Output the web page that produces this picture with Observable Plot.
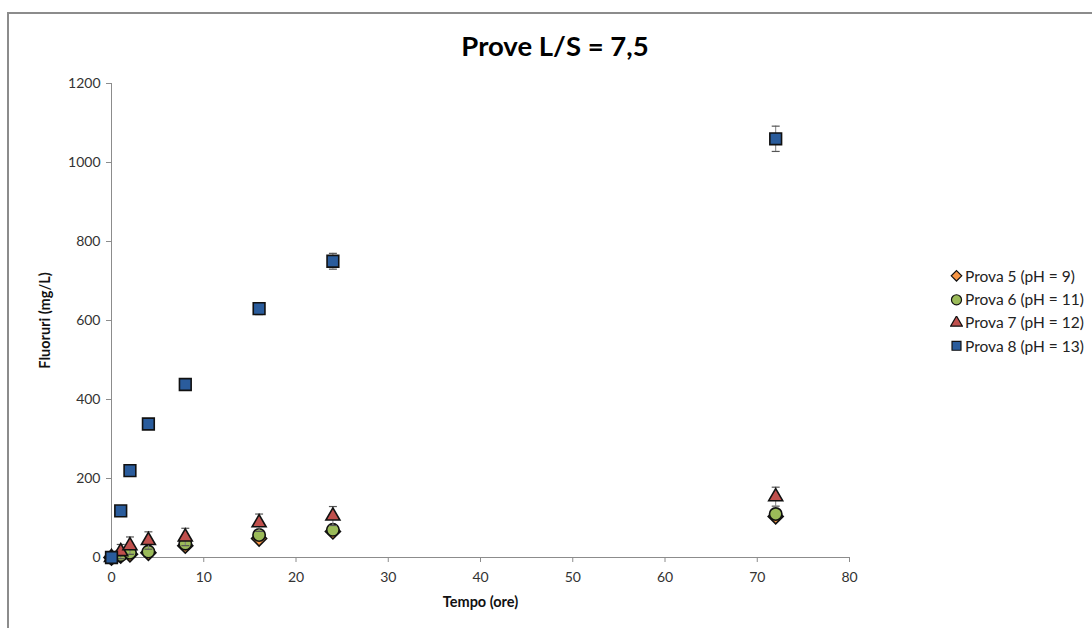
<!DOCTYPE html>
<html><head><meta charset="utf-8">
<script src="https://cdn.jsdelivr.net/npm/d3@7"></script>
<script src="https://cdn.jsdelivr.net/npm/@observablehq/plot@0.6"></script>
<style>
body{margin:0;background:#fff;font-family:Lato,"Open Sans",sans-serif;}
#wrap{position:relative;width:1092px;height:628px;overflow:hidden;background:#fff;}
#frame{position:absolute;left:7px;top:12px;width:1200px;height:700px;border-left:2px solid #8c8c8c;border-top:2px solid #8c8c8c;}
#chart{position:absolute;left:0;top:0;}
#title{position:absolute;left:0;width:1110px;top:29px;text-align:center;font-weight:bold;font-size:27.5px;color:#000;}
#legend{position:absolute;left:950px;top:264px;font-size:15.5px;color:#222;}
#legend .row{height:23.4px;display:flex;align-items:center;}
#legend svg{margin-right:2px;}
</style>
</head><body>
<div id="wrap">
<div id="frame"></div>
<div id="chart"></div>
<div id="title">Prove L/S = 7,5</div>
<div id="legend"></div>
</div>
<script>
// Data
const times = [0, 1, 2, 4, 8, 16, 24, 72];
const seriesNames = ["Prova 5 (pH = 9)", "Prova 6 (pH = 11)", "Prova 7 (pH = 12)", "Prova 8 (pH = 13)"];
const prova5 = [0, 5, 8, 12, 30, 48, 66, 104];
const prova6 = [0, 6, 12, 15, 35, 57, 70, 110];
const prova7 = [0, 15, 30, 43, 52, 88, 105, 154];
const prova8 = [0, 118, 220, 338, 438, 630, 750, 1060];
const err5 = [2, 4, 4, 5, 5, 6, 6, 8];
const err6 = [2, 4, 4, 5, 5, 6, 6, 8];
const err7 = [3, 18, 22, 22, 22, 22, 24, 24];
const err8 = [5, 8, 8, 8, 8, 15, 20, 32];
const xTicks = [0, 10, 20, 30, 40, 50, 60, 70, 80];
const yTicks = [0, 200, 400, 600, 800, 1000, 1200];

const symbolNames = ["diamond", "circle", "triangle", "square"];
const fills = ["#F79646", "#9BBB59", "#C0504D", "#2A5C9C"];
const values = [prova5, prova6, prova7, prova8];
const errs = [err5, err6, err7, err8];

// Excel-like diamond: a square rotated 45°
const diamond = {draw(ctx, size) { const h = Math.sqrt(size / 2); ctx.moveTo(0, -h); ctx.lineTo(h, 0); ctx.lineTo(0, h); ctx.lineTo(-h, 0); ctx.closePath(); }};
const cap = {draw(ctx, size) { const w = Math.sqrt(size) / 2; ctx.moveTo(-w, 0); ctx.lineTo(w, 0); }};
const symbolMap = {diamond, circle: d3.symbolCircle, triangle: d3.symbolTriangle, square: d3.symbolSquare};
const radius = {diamond: 6, circle: 6.2, triangle: 5.2, square: 6.6};

const series = seriesNames.map((name, i) => ({
  name, symbol: symbolNames[i], fill: fills[i],
  rows: times.map((t, j) => ({t, v: values[i][j], e: errs[i][j]}))
}));

const marks = [
  Plot.ruleX([0], {stroke: "#8c8c8c"}),
  Plot.ruleY([0], {stroke: "#8c8c8c"}),
  Plot.axisY({ticks: yTicks, tickFormat: d3.format("d"), tickSize: 5, tickPadding: 6, label: null, fontSize: 14, stroke: "#8c8c8c", fill: "#333"}),
  Plot.axisX({ticks: xTicks, tickFormat: d3.format("d"), tickSize: 5, tickPadding: 10, label: null, fontSize: 14, stroke: "#8c8c8c", fill: "#333"}),
  Plot.text(["Fluoruri (mg/L)"], {frameAnchor: "left", textAnchor: "middle", rotate: -90, dx: -66, fontWeight: "bold", fontSize: 14.5, fill: "#111"}),
  Plot.text(["Tempo (ore)"], {frameAnchor: "bottom", dy: 49, fontWeight: "bold", fontSize: 14.5, fill: "#111"})
];
for (const s of series) {
  marks.push(
    Plot.ruleX(s.rows, {x: "t", y1: d => d.v - d.e, y2: d => d.v + d.e, stroke: "#7f7f7f", strokeWidth: 1}),
    Plot.dot(s.rows, {x: "t", y: d => d.v + d.e, symbol: cap, r: 4.5, fill: "none", stroke: "#555", strokeWidth: 1.2}),
    Plot.dot(s.rows, {x: "t", y: d => d.v - d.e, symbol: cap, r: 4.5, fill: "none", stroke: "#555", strokeWidth: 1.2})
  );
  marks.push(Plot.dot(s.rows, {x: "t", y: "v", symbol: symbolMap[s.symbol], r: radius[s.symbol], fill: s.fill, stroke: "#111", strokeWidth: 1.6}));
}

const plot = Plot.plot({
  width: 1092, height: 628,
  marginLeft: 111, marginRight: 243, marginTop: 83, marginBottom: 71,
  style: {fontFamily: "Lato, 'Open Sans', sans-serif", background: "transparent", overflow: "visible"},
  x: {domain: [0, 80]},
  y: {domain: [0, 1200]},
  marks
});
document.getElementById("chart").appendChild(plot);

// Legend
const legend = d3.select("#legend");
series.forEach(s => {
  const row = legend.append("div").attr("class", "row");
  const sv = row.append("svg").attr("width", 13).attr("height", 13);
  sv.append("path").attr("transform", "translate(6.5,6.8)")
    .attr("d", d3.symbol(symbolMap[s.symbol], s.symbol === "diamond" ? 55 : s.symbol === "triangle" ? 60 : 80)())
    .attr("fill", s.fill).attr("stroke", "#111").attr("stroke-width", 1.2);
  row.append("span").text(s.name);
});
</script>
</body></html>
